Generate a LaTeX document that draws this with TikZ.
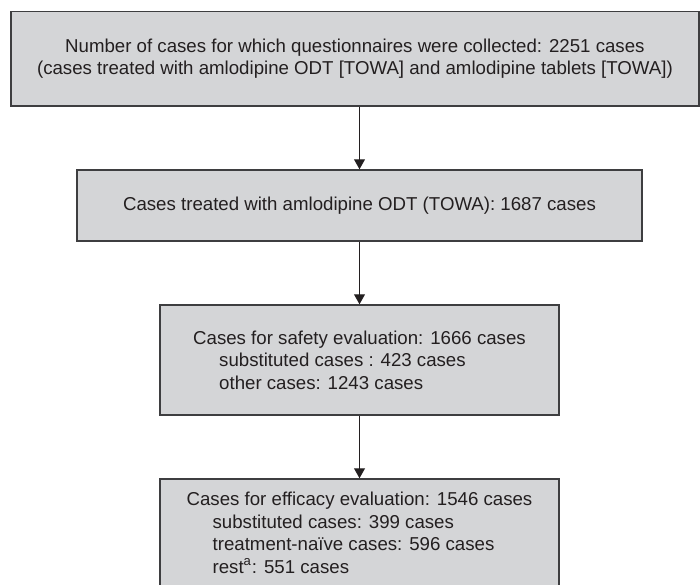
\documentclass[tikz,border=0pt]{standalone}
\usepackage{fontspec}
\setmainfont{Liberation Sans}
\usetikzlibrary{arrows.meta}
\definecolor{boxgray}{RGB}{212,213,215}
\definecolor{edgegray}{RGB}{62,62,64}
\definecolor{inkgray}{RGB}{35,31,32}
\begin{document}
\begin{tikzpicture}[x=0.5pt, y=-0.5pt,
    stage/.style={draw=edgegray, line width=0.75pt, fill=boxgray, text=inkgray, inner sep=0pt,
        font=\fontsize{9.33}{11.25}\selectfont},
    flow/.style={draw=inkgray, line width=0.5pt, -{Triangle[width=5.5pt,length=5pt]}}]
    \useasboundingbox (0,0) rectangle (700,584);
    \node[stage, minimum width=344pt, minimum height=47.2pt, align=center] (collected) at (354.9,58.9)
        {Number of cases for which questionnaires were collected: 2251 cases\\(cases treated with amlodipine ODT [TOWA] and amlodipine tablets [TOWA])};
    \node[stage, minimum width=282.5pt, minimum height=35.5pt] (odt) at (359.5,205.5)
        {Cases treated with amlodipine ODT (TOWA): 1687 cases};
    \node[stage, minimum width=199.5pt, minimum height=55pt, align=left] (safety) at (359.5,360)
        {Cases for safety evaluation: 1666 cases\\\hspace*{13pt}substituted cases : 423 cases\\\hspace*{13pt}other cases: 1243 cases};
    \node[stage, minimum width=199.5pt, minimum height=54pt, align=left] (efficacy) at (359.5,533)
        {Cases for efficacy evaluation: 1546 cases\\\hspace*{13pt}substituted cases: 399 cases\\\hspace*{13pt}treatment-naïve cases: 596 cases\\\hspace*{13pt}rest\textsuperscript{a}: 551 cases};
    \draw[flow] (collected.south -| odt) -- (odt.north);
    \draw[flow] (odt) -- (safety);
    \draw[flow] (safety) -- (efficacy);
\end{tikzpicture}
\end{document}
